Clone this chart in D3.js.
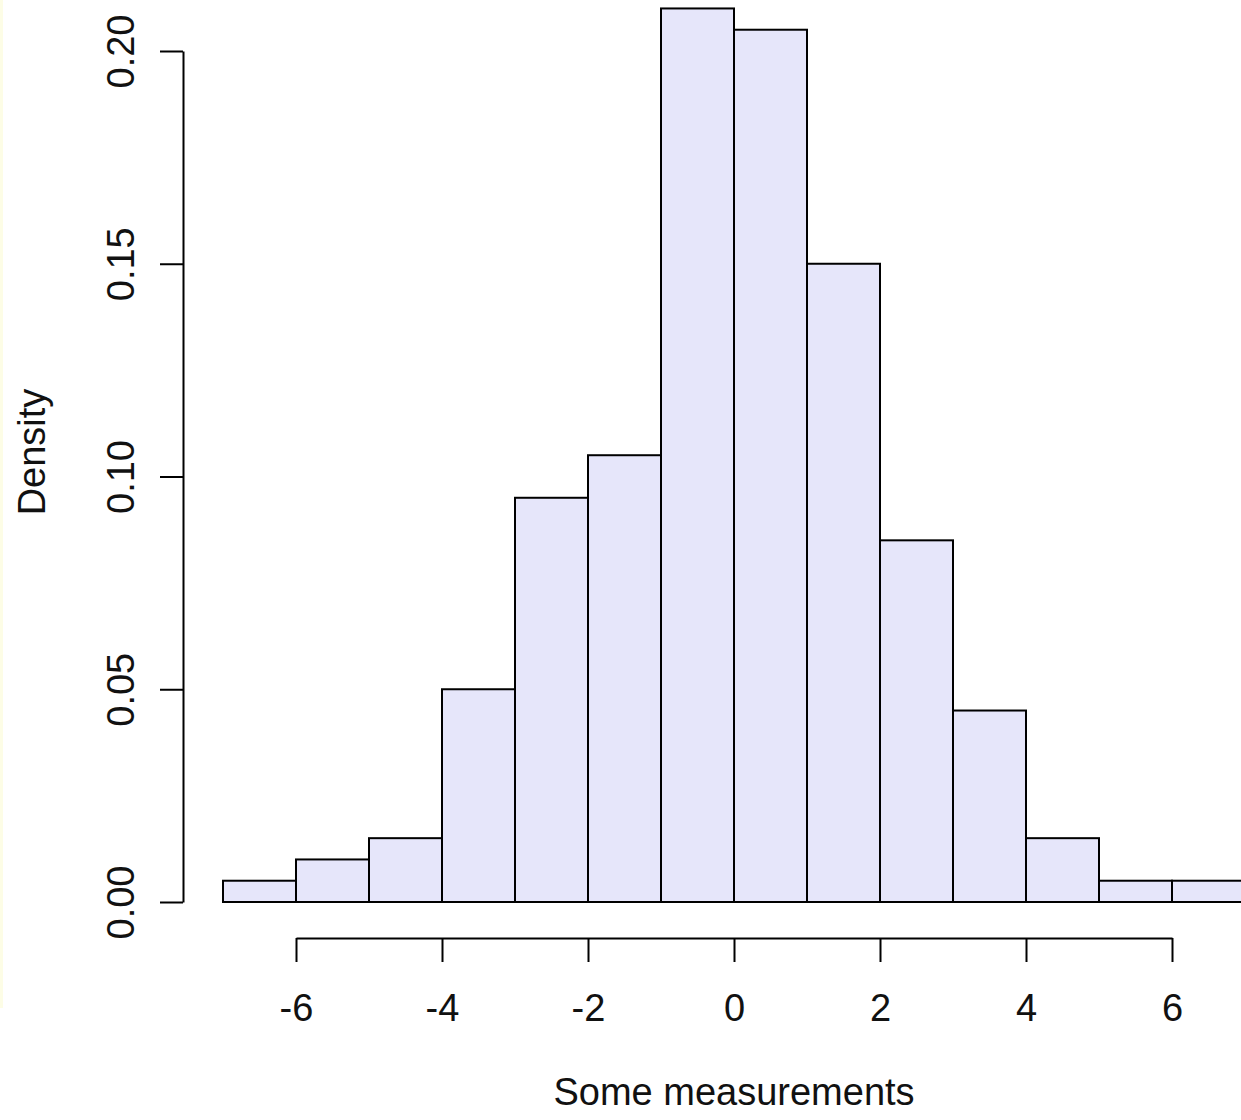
<!DOCTYPE html>
<html>
<head>
<meta charset="utf-8">
<script src="https://cdn.jsdelivr.net/npm/d3@7"></script>
<style>
  body { margin: 0; background: #fff; }
  svg text { font-family: "Liberation Sans", Arial, sans-serif; fill: #111; }
</style>
</head>
<body>
<svg id="chart" width="1241" height="1120"></svg>
<script>
// bin edges and density of each bin
const binStarts = [-7, -6, -5, -4, -3, -2, -1, 0, 1, 2, 3, 4, 5, 6];
const densities = [0.005, 0.01, 0.015, 0.05, 0.095, 0.105, 0.21, 0.205, 0.15, 0.085, 0.045, 0.015, 0.005, 0.005];
const xTicks = [-6, -4, -2, 0, 2, 4, 6];
const yTicks = [0, 0.05, 0.10, 0.15, 0.20];

const svg = d3.select('#chart');

// faint yellow strip at the left edge
svg.append('rect')
  .attr('x', 0).attr('y', 0)
  .attr('width', 3).attr('height', 1008)
  .style('fill', '#fdfde6');

const x = d3.scaleLinear().domain([-6, 6]).range([296, 1172]);
const y = d3.scaleLinear().domain([0, 0.2]).range([902, 51]);

const bars = binStarts.map(function(s, i) {
  return { x0: s, x1: s + 1, d: densities[i] };
});

svg.append('g')
  .selectAll('rect')
  .data(bars)
  .join('rect')
  .attr('x', function(d) { return x(d.x0) })
  .attr('y', function(d) { return y(d.d) })
  .attr('width', function(d) { return x(d.x1) - x(d.x0) })
  .attr('height', function(d) { return y(0) - y(d.d) })
  .style('fill', '#e6e6fa')
  .style('stroke', '#000')
  .style('stroke-width', 2);

// x axis (R style, detached below)
const xAxis = svg.append('g')
  .attr('transform', 'translate(0,938)')
  .call(d3.axisBottom(x).tickValues(xTicks).tickSize(24).tickSizeOuter(0).tickPadding(32)
    .tickFormat(function(d) { return d < 0 ? '-' + Math.abs(d) : d }));
xAxis.select('.domain').style('stroke', '#000').style('stroke-width', 2);
xAxis.selectAll('.tick line').style('stroke', '#000').style('stroke-width', 2);
xAxis.selectAll('.tick text').style('font-size', '38px');

// y axis
const yAxis = svg.append('g')
  .attr('transform', 'translate(183,0)')
  .call(d3.axisLeft(y).tickValues(yTicks).tickSize(23).tickSizeOuter(0)
    .tickFormat(d3.format('.2f')));
yAxis.select('.domain').style('stroke', '#000').style('stroke-width', 2);
yAxis.selectAll('.tick line').style('stroke', '#000').style('stroke-width', 2);
yAxis.selectAll('.tick text')
  .style('font-size', '38px')
  .attr('x', null).attr('dy', null)
  .attr('text-anchor', 'middle')
  .attr('transform', 'translate(-49,0) rotate(-90)');

svg.append('text')
  .attr('x', 734).attr('y', 1105)
  .attr('text-anchor', 'middle')
  .style('font-size', '38px')
  .text('Some measurements');

svg.append('text')
  .attr('transform', 'translate(45,452) rotate(-90)')
  .attr('text-anchor', 'middle')
  .style('font-size', '38px')
  .text('Density');
</script>
</body>
</html>
